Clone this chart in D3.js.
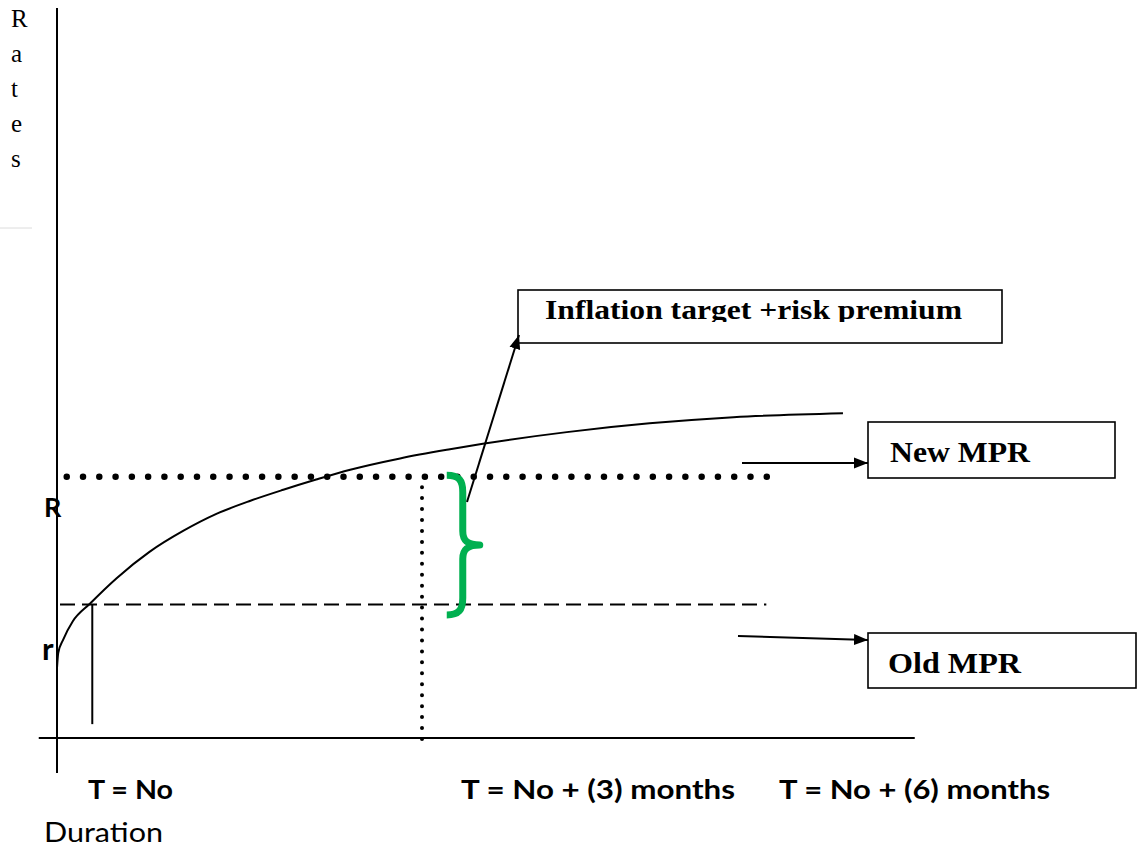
<!DOCTYPE html>
<html><head><meta charset="utf-8">
<script src="https://cdn.jsdelivr.net/npm/d3@7"></script>
<style>body{margin:0;background:#fff} svg{display:block}</style>
</head><body><svg id="c" width="1137" height="849"></svg>
<script>
// ---- data ----
const curveMonths = [0, 0.01, 0.05, 0.13, 0.27, 0.49, 0.76, 1.04, 1.31, 1.59, 1.86, 2.13, 2.41, 2.82, 3.23, 3.50, 4.19, 4.87, 5.56, 6.46];
const curveRates  = [1.92, 2.33, 2.69, 3.20, 3.68, 4.38, 5.10, 5.68, 6.14, 6.50, 6.80, 7.08, 7.35, 7.66, 7.91, 8.06, 8.38, 8.62, 8.79, 8.90];
const oldMPR = 3.66;          // r
const newMPR = 7.16;          // R
const horizonMonths = [0, 3, 6];
const tickLabels = ["T = No", "T = No + (3) months", "T = No + (6) months"];
const levelLabels = ["R", "r"];
const yTitle = "Rates";
const xTitle = "Duration";
const boxLabels = ["Inflation target +risk premium", "New MPR", "Old MPR"];
const entryMonth = 0.29;      // where the curve meets the old MPR

// ---- scales ----
const x = d3.scaleLinear().domain([0, 3]).range([57, 422]);
const y = d3.scaleLinear().domain([0, 20]).range([738, 8]);

const svg = d3.select("#c");
const defs = svg.append("defs");
defs.append("marker").attr("id", "ah").attr("markerUnits", "userSpaceOnUse")
  .attr("viewBox", "0 -6 14 12").attr("refX", 14).attr("refY", 0)
  .attr("markerWidth", 14).attr("markerHeight", 12).attr("orient", "auto")
  .append("path").attr("d", "M0,-5.5L14,0L0,5.5Z").attr("fill", "#000");
defs.append("clipPath").attr("id", "boxclip").append("rect")
  .attr("x", 500).attr("y", 280).attr("width", 520).attr("height", 42);

// faint rule at left
svg.append("line").attr("x1", 0).attr("x2", 32).attr("y1", 228).attr("y2", 228)
  .attr("stroke", "#dcdcdc").attr("stroke-width", 1);

// y-axis title (stacked letters)
svg.append("g").selectAll("text").data(yTitle.split("")).join("text")
  .attr("x", 11).attr("y", (d, i) => 27 + i * 35)
  .attr("font-family", "Liberation Serif, Times New Roman, serif")
  .attr("font-size", 25).attr("fill", "#000").text(d => d);

// axes
svg.append("line").attr("x1", x(0)).attr("x2", x(0)).attr("y1", y(20)).attr("y2", y(-0.96))
  .attr("stroke", "#000").attr("stroke-width", 2);
svg.append("line").attr("x1", x(-0.15)).attr("x2", x(7.05)).attr("y1", y(0)).attr("y2", y(0))
  .attr("stroke", "#000").attr("stroke-width", 2);

// new MPR dotted line
svg.append("line").attr("x1", x(0.08)).attr("x2", x(5.834)).attr("y1", y(newMPR)).attr("y2", y(newMPR))
  .attr("stroke", "#000").attr("stroke-width", 6.5).attr("stroke-linecap", "round")
  .attr("stroke-dasharray", "0 16.28");

// old MPR dashed line
svg.append("line").attr("x1", x(0)).attr("x2", x(5.83)).attr("y1", y(oldMPR)).attr("y2", y(oldMPR))
  .attr("stroke", "#000").attr("stroke-width", 2).attr("stroke-dasharray", "15 7")
  .attr("stroke-dashoffset", -3);

// vertical dotted line at 3 months
svg.append("line").attr("x1", x(3)).attr("x2", x(3)).attr("y1", y(newMPR) + 10.5).attr("y2", y(0) + 2)
  .attr("stroke", "#000").attr("stroke-width", 4).attr("stroke-linecap", "round")
  .attr("stroke-dasharray", "0 10.95");

// small vertical line where curve meets r
svg.append("line").attr("x1", x(entryMonth)).attr("x2", x(entryMonth)).attr("y1", y(oldMPR)).attr("y2", y(0.38))
  .attr("stroke", "#000").attr("stroke-width", 2);

// curve
const pts = curveMonths.map((m, i) => [m, curveRates[i]]);
svg.append("path").datum(pts)
  .attr("d", d3.line().x(d => x(d[0])).y(d => y(d[1])).curve(d3.curveMonotoneX))
  .attr("fill", "none").attr("stroke", "#000").attr("stroke-width", 2);

// level labels
const lblFont = "Lato, 'DejaVu Sans', sans-serif";
svg.append("text").attr("x", 44).attr("y", 517).attr("font-family", lblFont).attr("font-weight", 700)
  .attr("font-size", 27).text(levelLabels[0]);
svg.append("text").attr("x", 42).attr("y", 660).attr("font-family", lblFont).attr("font-weight", 700)
  .attr("font-size", 31).text(levelLabels[1]);

// green brace between R and r
const bx = x(3.335), by0 = y(newMPR) - 1.5, by1 = y(oldMPR) + 10.5, bm = (by0 + by1) / 2;
const bp = d3.path();
bp.moveTo(bx - 16, by0);
bp.bezierCurveTo(bx - 4, by0, bx, by0 + 5, bx, by0 + 17);
bp.lineTo(bx, bm - 14);
bp.bezierCurveTo(bx, bm - 4, bx + 5, bm, bx + 17, bm);
bp.bezierCurveTo(bx + 5, bm, bx, bm + 4, bx, bm + 14);
bp.lineTo(bx, by1 - 17);
bp.bezierCurveTo(bx, by1 - 5, bx - 4, by1, bx - 16, by1);
svg.append("path").attr("d", bp.toString()).attr("fill", "none")
  .attr("stroke", "#00b050").attr("stroke-width", 7).attr("stroke-linejoin", "round");

// boxes
const serif = "Liberation Serif, Times New Roman, serif";
svg.append("rect").attr("x", 518).attr("y", 290).attr("width", 484).attr("height", 53)
  .attr("fill", "#fff").attr("stroke", "#000").attr("stroke-width", 1.6);
svg.append("text").attr("clip-path", "url(#boxclip)").attr("x", 545).attr("y", 319)
  .attr("font-family", serif).attr("font-weight", 700).attr("font-size", 27)
  .attr("textLength", 417).attr("lengthAdjust", "spacingAndGlyphs").text(boxLabels[0]);

svg.append("rect").attr("x", 868).attr("y", 422).attr("width", 247).attr("height", 56)
  .attr("fill", "#fff").attr("stroke", "#000").attr("stroke-width", 1.6);
svg.append("text").attr("x", 890).attr("y", 462)
  .attr("font-family", serif).attr("font-weight", 700).attr("font-size", 29)
  .attr("textLength", 140).attr("lengthAdjust", "spacingAndGlyphs").text(boxLabels[1]);

svg.append("rect").attr("x", 868).attr("y", 633).attr("width", 268).attr("height", 55)
  .attr("fill", "#fff").attr("stroke", "#000").attr("stroke-width", 1.6);
svg.append("text").attr("x", 888).attr("y", 673)
  .attr("font-family", serif).attr("font-weight", 700).attr("font-size", 29)
  .attr("textLength", 133).attr("lengthAdjust", "spacingAndGlyphs").text(boxLabels[2]);

// arrows
svg.append("line").attr("x1", 742).attr("y1", 463).attr("x2", 868).attr("y2", 463)
  .attr("stroke", "#000").attr("stroke-width", 2).attr("marker-end", "url(#ah)");
svg.append("line").attr("x1", 738).attr("y1", 636).attr("x2", 868).attr("y2", 640)
  .attr("stroke", "#000").attr("stroke-width", 2).attr("marker-end", "url(#ah)");
svg.append("line").attr("x1", 467).attr("y1", 502).attr("x2", 519).attr("y2", 335)
  .attr("stroke", "#000").attr("stroke-width", 2).attr("marker-end", "url(#ah)");

// horizon labels
const tickDx = [31, 39, -8];
const tickW = [85, 274, 271];
svg.append("g").selectAll("text").data(tickLabels).join("text")
  .attr("x", (d, i) => x(horizonMonths[i]) + tickDx[i]).attr("y", 799)
  .attr("font-family", lblFont).attr("font-weight", 700).attr("font-size", 26)
  .attr("textLength", (d, i) => tickW[i]).attr("lengthAdjust", "spacingAndGlyphs")
  .text(d => d);

svg.append("text").attr("x", 44).attr("y", 842).attr("font-family", lblFont)
  .attr("font-size", 27).attr("textLength", 119).attr("lengthAdjust", "spacingAndGlyphs").text(xTitle);
</script></body></html>
